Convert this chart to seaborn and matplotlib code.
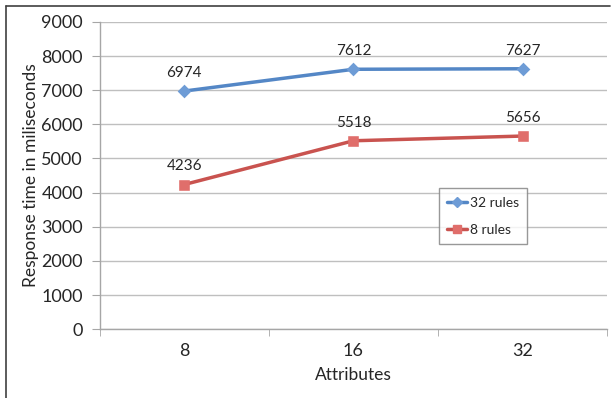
import pandas as pd
import matplotlib.pyplot as plt
import seaborn as sns
from matplotlib.lines import Line2D

# values
attributes = ["8", "16", "32"]
rules_32 = [6974, 7612, 7627]
rules_8 = [4236, 5518, 5656]
series_names = ["32 rules", "8 rules"]
colors = ["#5487C6", "#C9534F"]
marker_colors = ["#6E9CD6", "#E06E6B"]

df = pd.DataFrame({
    "Attributes": attributes * 2,
    "time": rules_32 + rules_8,
    "series": [series_names[0]] * 3 + [series_names[1]] * 3,
})

sns.set_style("white")
plt.rcParams["font.family"] = ["Lato", "DejaVu Sans"]

fig = plt.figure(figsize=(6.12, 3.98), dpi=100)
ax = fig.add_axes([0.163, 0.173, 0.829, 0.772])

sns.pointplot(data=df, x="Attributes", y="time", hue="series", order=attributes,
              hue_order=series_names, palette=colors, markers=["D", "s"],
              linestyles=["-", "-"], errorbar=None, markersize=5, linewidth=2.5,
              ax=ax)

# lighter marker faces, as in the original
for line, mc, ms in zip(ax.lines[:2], marker_colors, [5, 5.2]):
    line.set_markerfacecolor(mc)
    line.set_markeredgecolor(mc)
    line.set_markersize(ms)

# data labels
for vals in [rules_32, rules_8]:
    for i, v in enumerate(vals):
        ax.annotate(str(v), (i, v), xytext=(0, 8), textcoords="offset points",
                    ha="center", va="bottom", fontsize=11)

ax.set_ylim(0, 9000)
ax.set_xlim(-0.5, 2.5)
ax.set_yticks(range(0, 9001, 1000))
ax.yaxis.grid(True, color="#BFBFBF", linewidth=1)
ax.xaxis.grid(False)
ax.set_axisbelow(True)

for side in ["top", "right"]:
    ax.spines[side].set_visible(False)
for side in ["left", "bottom"]:
    ax.spines[side].set_color("#A6A6A6")
    ax.spines[side].set_linewidth(1)

ax.tick_params(axis="y", which="major", length=6, color="#A6A6A6", labelsize=13, pad=6, left=True)
ax.tick_params(axis="x", which="major", length=0, labelsize=13, pad=10)
ax.set_xticks([-0.5, 0.5, 1.5, 2.5], minor=True)
ax.tick_params(axis="x", which="minor", length=5, color="#A6A6A6", bottom=True)

ax.set_xlabel("Attributes", fontsize=12.5, labelpad=6)
ax.set_ylabel("Response time in miliseconds", fontsize=12.5, labelpad=2)

handles = [Line2D([], [], color=c, marker=m, markerfacecolor=mc, markeredgecolor=mc,
                  markersize=ms, linewidth=2.5)
           for c, mc, m, ms in zip(colors, marker_colors, ["D", "s"], [5, 5.2])]
leg = ax.legend(handles, series_names, loc="lower left", bbox_to_anchor=(0.655, 0.254),
                frameon=True, fancybox=False, fontsize=10, handlelength=1.4,
                handletextpad=0.2, borderpad=0.6, labelspacing=1.1)
leg.get_frame().set_edgecolor("#7F7F7F")
leg.get_frame().set_linewidth(1)

# figure frame: left and top edges only
fig.add_artist(Line2D([0.009, 0.009], [0.0, 0.985], transform=fig.transFigure,
                      color="#404040", linewidth=1.2))
fig.add_artist(Line2D([0.009, 0.997], [0.985, 0.985], transform=fig.transFigure,
                      color="#404040", linewidth=1.2))

fig.savefig("out.png", dpi=100)
